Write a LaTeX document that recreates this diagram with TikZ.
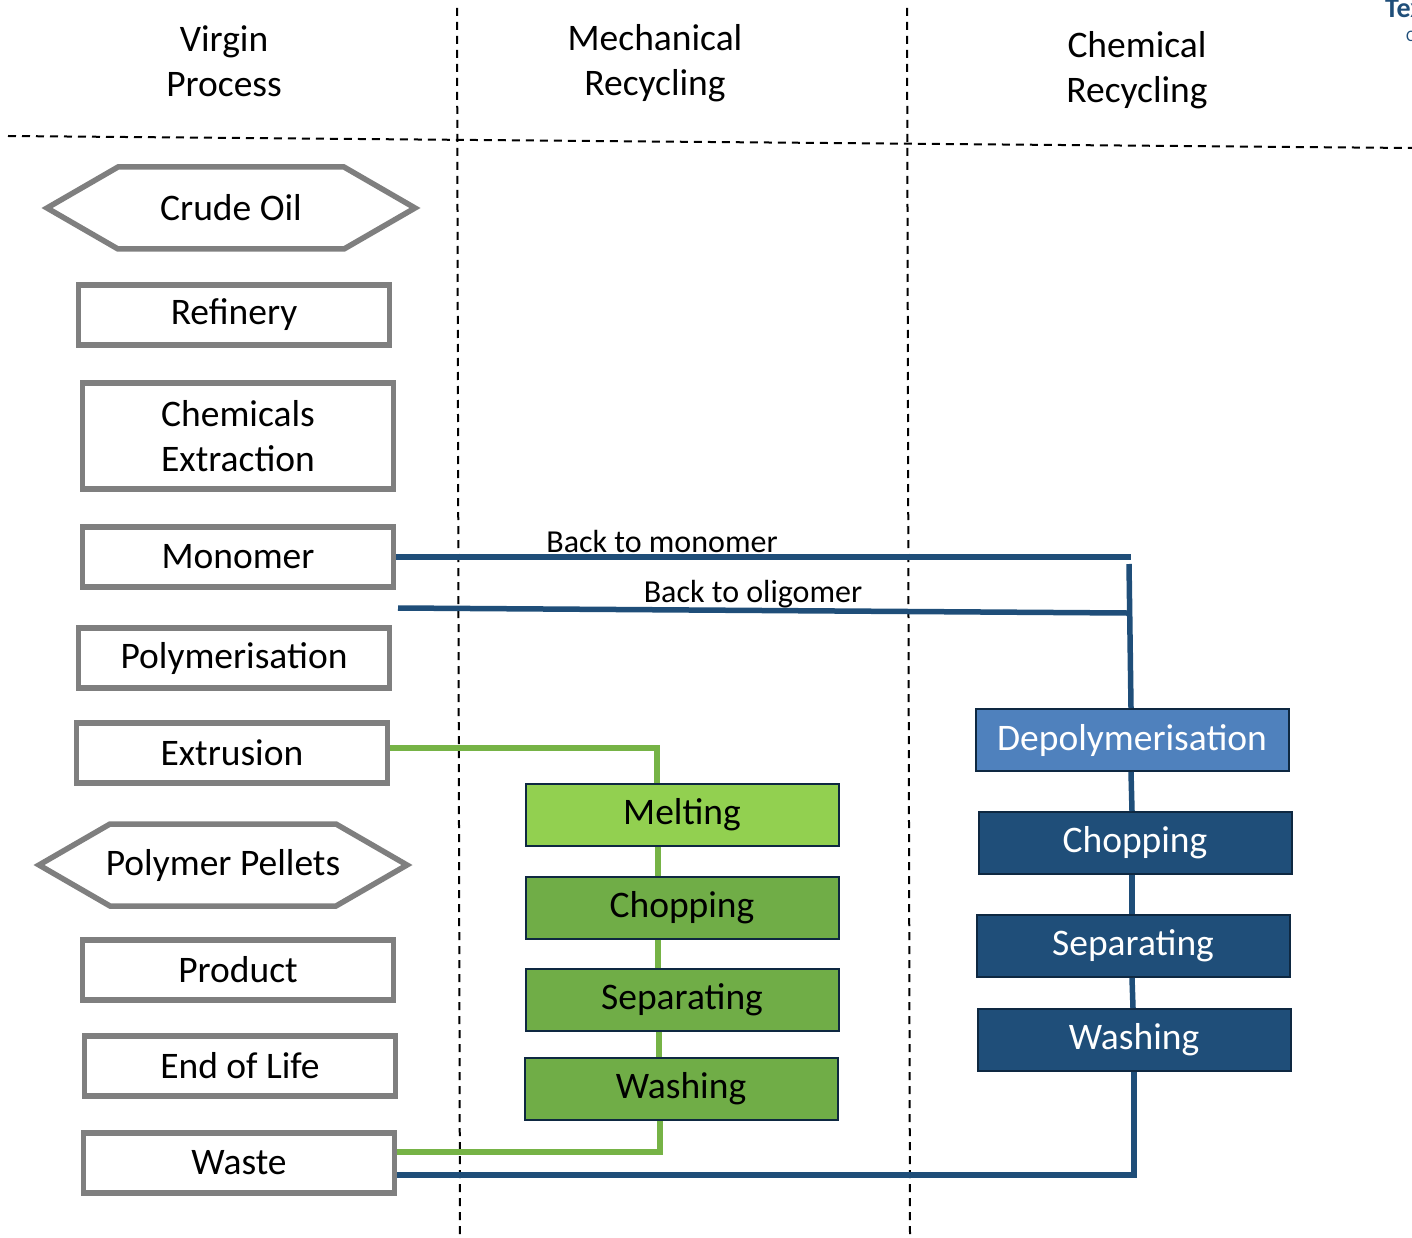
\documentclass[tikz,border=0pt]{standalone}
\usepackage{fontspec}
\setmainfont{Carlito}
\usepackage{tikz}
\usetikzlibrary{calc,shapes.symbols}

\definecolor{boxgrey}{HTML}{7F7F7F}
\definecolor{meltgreen}{HTML}{92D050}
\definecolor{mechgreen}{HTML}{70AD47}
\definecolor{linegreen}{HTML}{76B346}
\definecolor{depolyblue}{HTML}{4F81BD}
\definecolor{chemnavy}{HTML}{1F4E79}
\definecolor{edgenavy}{HTML}{0E2841}

\tikzset{
  every node/.style={font=\fontsize{37.5}{45}\selectfont},
  divider/.style={line width=2pt,dash pattern=on 8pt off 6pt},
  virginbox/.style={draw=boxgrey,line width=5.5pt,minimum width=311pt,minimum height=60pt,align=center,inner sep=0pt},
  virginhex/.style={draw=boxgrey,line width=5.5pt,shape=signal,signal to=east and west,signal pointer angle=60,minimum width=368pt,minimum height=82pt,inner sep=0pt},
  mechbox/.style={draw=edgenavy,line width=2pt,fill=mechgreen,minimum width=313pt,minimum height=62pt,inner sep=0pt},
  chembox/.style={draw=edgenavy,line width=2pt,fill=chemnavy,text=white,minimum width=313pt,minimum height=62pt,inner sep=0pt},
  mechline/.style={draw=linegreen,line width=5.5pt},
  chemline/.style={draw=chemnavy,line width=5.5pt},
  backlabel/.style={font=\fontsize{32}{38}\selectfont,inner sep=0pt}
}

\begin{document}
\begin{tikzpicture}[x=1pt,y=-1pt]
  \useasboundingbox (0,0) rectangle (1412,1238);

  % Column headers
  \node[align=center] (virgin) at (224,61) {Virgin\\Process};
  \node[align=center] (mech) at (655,63) {Mechanical\\Recycling};
  \node[align=center] (chem) at (1137,70) {Chemical\\Recycling};
  \node[anchor=base west,inner sep=0pt,text=chemnavy,font=\fontsize{28}{30}\selectfont\bfseries] (logo) at (1385,18) {Tex};
  \node[anchor=base west,inner sep=0pt,text=chemnavy,font=\fontsize{16}{18}\selectfont] (logosub) at (1406,42) {C};

  % Dividers
  \draw[divider] (8,136) -- (1412,148);
  \draw[divider] (457,8) -- (460,1238);
  \draw[divider] (907,8) -- (910,1238);

  % Virgin process
  \node[virginhex] (crude) at (231,208) {Crude Oil};
  \node[virginbox] (refinery) at (234,315) {Refinery};
  \node[virginbox,minimum height=106pt] (extract) at (238,436) {Chemicals\\Extraction};
  \node[virginbox] (monomer) at (238,557) {Monomer};
  \node[virginbox] (polymer) at (234,658) {Polymerisation};
  \node[virginbox] (extrusion) at (232,753) {Extrusion};
  \node[virginhex,inner xsep=-5pt] (pellets) at (223,865) {Polymer Pellets};
  \node[virginbox] (product) at (238,970) {Product};
  \node[virginbox] (endlife) at (240,1066) {End of Life};
  \node[virginbox] (waste) at (239,1163) {Waste};

  % Mechanical recycling
  \node[mechbox,fill=meltgreen] (melting) at (682,815) {Melting};
  \node[mechbox] (mchop) at (682,908) {Chopping};
  \node[mechbox] (msep) at (682,1000) {Separating};
  \node[mechbox] (mwash) at (681,1089) {Washing};

  % Chemical recycling
  \node[chembox,fill=depolyblue] (depoly) at (1132,740) {Depolymerisation};
  \node[chembox] (cchop) at (1135,843) {Chopping};
  \node[chembox] (csep) at (1133,946) {Separating};
  \node[chembox] (cwash) at (1134,1040) {Washing};

  % Green loop
  \draw[mechline] ([yshift=5pt]extrusion.east) -| ([xshift=-25pt]melting.north);
  \draw[mechline] ([xshift=-24pt]melting.south) -- ([xshift=-24pt]mchop.north);
  \draw[mechline] ([xshift=-24pt]mchop.south) -- ([xshift=-24pt]msep.north);
  \draw[mechline] ([xshift=-23pt]msep.south) -- ([xshift=-22pt]mwash.north);
  \draw[mechline] ([xshift=-21pt]mwash.south) |- ([yshift=11pt]waste.east);

  % Blue loop
  \coordinate (monoend) at (1131,557);
  \coordinate (riser) at (1129,564);
  \coordinate (oligostart) at (398,608);
  \coordinate (oligoend) at (1127,613);
  \draw[chemline] (monomer.east) -- (monoend);
  \draw[chemline] (oligostart) -- (oligoend);
  \draw[chemline] (riser) -- ([xshift=-1pt]depoly.north);
  \draw[chemline] ([xshift=-1pt]depoly.south) -- ([xshift=-3pt]cchop.north);
  \draw[chemline] ([xshift=-3pt]cchop.south) -- ([xshift=-1pt]csep.north);
  \draw[chemline] ([xshift=-1pt]csep.south) -- ([xshift=-1pt]cwash.north);
  \draw[chemline] (cwash.south) |- ([yshift=-12pt]waste.east);
  \node[backlabel] (monolabel) at (662,542) {Back to monomer};
  \node[backlabel] (oligolabel) at (753,594) {Back to oligomer};
\end{tikzpicture}
\end{document}
